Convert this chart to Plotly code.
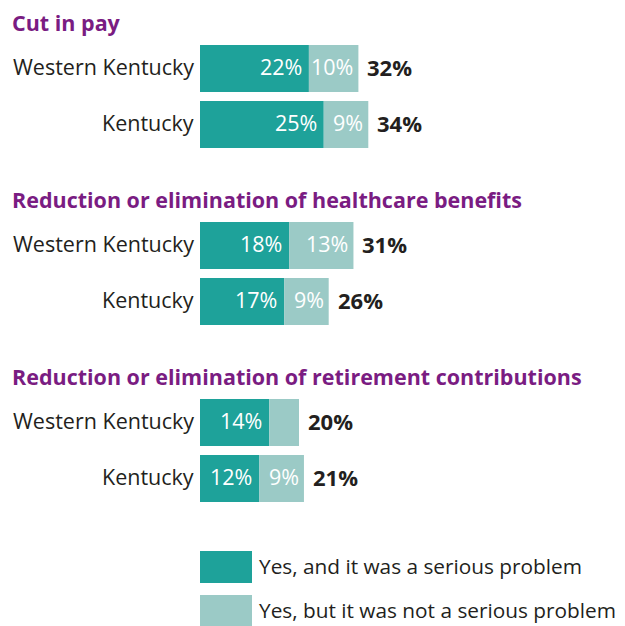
import plotly.graph_objects as go

# ---- data ----
groups = [
    "Cut in pay",
    "Reduction or elimination of healthcare benefits",
    "Reduction or elimination of retirement contributions",
]
regions = ["Western Kentucky", "Kentucky"]
serious = [[22, 25], [18, 17], [14, 12]]
not_serious = [[10, 9], [13, 9], [6, 9]]
totals = [[32, 34], [31, 26], [20, 21]]
serious_labels = [["22%", "25%"], ["18%", "17%"], ["14%", "12%"]]
not_serious_labels = [["10%", "9%"], ["13%", "9%"], ["", "9%"]]
total_labels = [["32%", "34%"], ["31%", "26%"], ["20%", "21%"]]
legend_names = ["Yes, and it was a serious problem", "Yes, but it was not a serious problem"]

# ---- style / layout ----
W, H = 625, 626
OFF = 8               # page body margin
BAR_X0 = 200 - OFF    # pixel where 0% sits
PX_PER_PCT = 4.95
FIRST_ROW = 68.5 - OFF
ROW_GAP = 56
GROUP_GAP = 177
HEADER_OFF = 46
BAR_W = 47
TY = 2                # text vertical nudge (up)
C_DARK = "#1ea29a"
C_LIGHT = "#9bcac6"
C_PURPLE = "#7a1c82"
C_TEXT = "#231f20"
FONT = "Open Sans"

ys, xs_s, xs_n = [], [], []
for g in range(len(groups)):
    for r in range(len(regions)):
        ys.append(FIRST_ROW + g * GROUP_GAP + r * ROW_GAP)
        xs_s.append(serious[g][r])
        xs_n.append(not_serious[g][r])

fig = go.Figure()
fig.add_trace(go.Bar(orientation="h", y=ys, x=xs_s, base=0, width=BAR_W,
                     marker=dict(color=C_DARK, line=dict(width=0)), name=legend_names[0],
                     hoverinfo="skip"))
fig.add_trace(go.Bar(orientation="h", y=ys, x=xs_n, base=xs_s, width=BAR_W,
                     marker=dict(color=C_LIGHT, line=dict(width=0)), name=legend_names[1],
                     hoverinfo="skip"))

ann = []
i = 0
for g in range(len(groups)):
    hy = FIRST_ROW + g * GROUP_GAP - HEADER_OFF
    ann.append(dict(x=(10.5 - OFF) / W, xref="paper", y=hy, yref="y", text="<b>%s</b>" % groups[g],
                    xanchor="left", yanchor="middle", yshift=0, borderpad=0, showarrow=False,
                    font=dict(family=FONT, size=21.5, color=C_PURPLE)))
    for r in range(len(regions)):
        y = ys[i]
        s = serious[g][r]
        n = not_serious[g][r]
        ann.append(dict(x=0, y=y, text=regions[r], xanchor="right", yanchor="middle",
                        xshift=-4, yshift=TY, showarrow=False,
                        font=dict(family=FONT, size=21.5, color=C_TEXT)))
        ann.append(dict(x=s, y=y, text=serious_labels[g][r], xanchor="right", yanchor="middle",
                        xshift=-5, yshift=TY, showarrow=False,
                        font=dict(family=FONT, size=21.5, color="white")))
        if not_serious_labels[g][r]:
            ann.append(dict(x=s + n, y=y, text=not_serious_labels[g][r], xanchor="right",
                            yanchor="middle", xshift=-3, yshift=TY, showarrow=False,
                            font=dict(family=FONT, size=21.5, color="white")))
        ann.append(dict(x=s + n, y=y, text="<b>%s</b>" % total_labels[g][r], xanchor="left",
                        yanchor="middle", xshift=7, yshift=TY, showarrow=False,
                        font=dict(family=FONT, size=22, color=C_TEXT)))
        i += 1

# legend (manual)
shapes = []
leg = [(551 - OFF, 583 - OFF, C_DARK), (595 - OFF, 627 - OFF, C_LIGHT)]
for k, (y0, y1, c) in enumerate(leg):
    shapes.append(dict(type="rect", xref="paper", yref="y", x0=(200 - OFF) / W, x1=(252 - OFF) / W,
                       y0=y0, y1=y1, fillcolor=c, line=dict(width=0)))
    ann.append(dict(x=(257 - OFF) / W, xref="paper", y=(y0 + y1) / 2, yref="y", text=legend_names[k],
                    xanchor="left", yanchor="middle", yshift=1, showarrow=False,
                    font=dict(family=FONT, size=20.8, color=C_TEXT)))

fig.update_layout(
    width=W, height=H, margin=dict(l=0, r=0, t=0, b=0),
    paper_bgcolor="white", plot_bgcolor="white",
    barmode="overlay", showlegend=False,
    xaxis=dict(range=[-BAR_X0 / PX_PER_PCT, (W - BAR_X0) / PX_PER_PCT], visible=False, fixedrange=True),
    yaxis=dict(range=[H, 0], visible=False, fixedrange=True),
    annotations=ann, shapes=shapes,
)
fig.write_html("out.html")
